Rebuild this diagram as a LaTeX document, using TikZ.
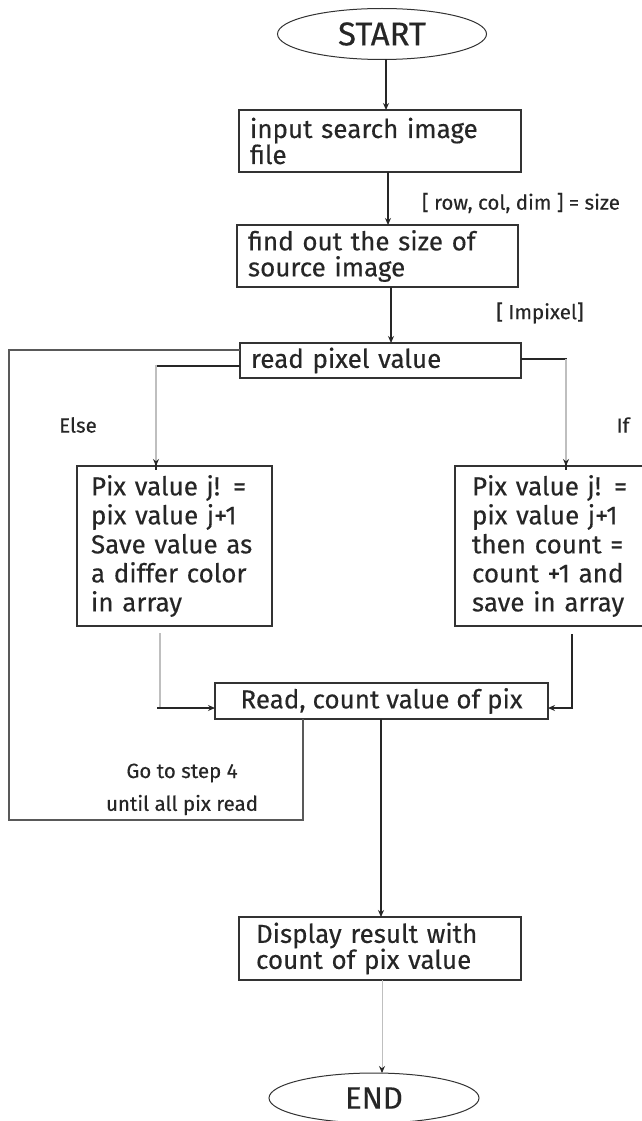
\documentclass[tikz,border=0pt]{standalone}
\usepackage{fontspec}
\setmainfont{Fira Sans}[UprightFeatures={FakeBold=0.3}]
\usetikzlibrary{arrows.meta,shapes.geometric}
\begin{document}
\begin{tikzpicture}[x=1pt,y=-1pt,
  every node/.style={inner sep=0pt,outer sep=0pt,text=black!85},
  box/.style={draw=black!80,line width=1.1pt,rectangle,inner xsep=11pt,align=left},
  term/.style={draw=black!80,line width=1pt,ellipse},
  arr/.style={-{Stealth[length=7pt,width=6pt]},line width=1.2pt,draw=black!85},
  garr/.style={-{Stealth[length=7pt,width=6pt,color=black!85]},line width=1.2pt,draw=black!25},
  ln/.style={line width=1.2pt,draw=black!85},
  gln/.style={line width=1.2pt,draw=black!25},
  lab/.style={font=\fontsize{20.5}{24}\selectfont},
  btxt/.style={font=\fontsize{26}{26}\selectfont},
  stxt/.style={font=\fontsize{26}{29}\selectfont}]
\useasboundingbox (0,0) rectangle (641,1121);
\fill[white] (0,0) rectangle (641,1121);

\node[term,minimum width=209pt,minimum height=51pt,font=\fontsize{33}{36}\selectfont] (start) at (382,34) {START};
\node[box,btxt,minimum width=282pt,minimum height=62pt,text width=260pt] (b1) at (380,141) {input search image\\file};
\node[box,btxt,minimum width=281pt,minimum height=62pt,text width=259pt] (b2) at (377.5,256) {find out the size of\\source image};
\node[box,btxt,minimum width=281pt,minimum height=35pt,text width=259pt] (rp) at (380.5,360.5) {read pixel value};
\node[box,stxt,minimum width=189pt,minimum height=160pt,text width=167pt,inner xsep=14pt] (lb) at (174.5,546) {Pix value j! =\\pix value j+1\\Save value as\\a differ color\\in array};
\node[box,stxt,minimum width=177pt,minimum height=160pt,text width=160pt,inner xsep=17pt] (rb) at (552,546) {Pix value j! =\\pix value j+1\\then count =\\count +1 and\\save in array};
\node[box,btxt,minimum width=333pt,minimum height=36pt,align=center] (rc) at (381.5,701) {Read, count value of pix};
\node[box,btxt,minimum width=282pt,minimum height=63pt,text width=248pt,inner xsep=17pt] (dr) at (380,948.5) {Display result with\\count of pix value};
\node[term,minimum width=210pt,minimum height=50pt,font=\fontsize{31}{34}\selectfont] (end) at (374,1098) {END};

\node[lab] (l1) at (521,203) {[ row, col, dim ] = size};
\node[lab] (l2) at (540,313) {[ Impixel]};
\node[lab] (l3) at (78,425) {Else};
\node[lab] (l4) at (623,425) {If};
\node[lab] (l5) at (182,773) {Go to step 4};
\node[lab] (l6) at (182,805) {until all pix read};

\coordinate (c1) at (9,820);
\coordinate (c2) at (160,708);
\coordinate (c3) at (572,708);

\draw[arr] ([xshift=4pt]start.south) -- ([xshift=4pt]start.south |- b1.north);
\draw[arr] ([xshift=8pt]b1.south) -- ([xshift=8pt]b1.south |- b2.north);
\draw[arr] ([xshift=13.5pt]b2.south) -- ([xshift=13.5pt]b2.south |- rp.north);
\draw[ln] ([yshift=-5.5pt]rp.west) -| ([xshift=-18.5pt,yshift=-4pt]lb.north);
\draw[garr] ([xshift=-18.5pt,yshift=-4pt]rp.west -| lb.north) -- ([xshift=-18.5pt]lb.north);
\draw[ln] ([yshift=1.5pt]rp.east) -| ([xshift=14pt,yshift=-4pt]rb.north);
\draw[garr] ([xshift=14pt,yshift=1.5pt]rp.east -| rb.north) -- ([xshift=14pt]rb.north);
\draw[gln] ([xshift=-14.5pt,yshift=-7pt]lb.south) -- (c2);
\draw[arr] ([xshift=-3pt]c2) -- (c2 -| rc.west);
\draw[ln] ([xshift=20pt,yshift=-8pt]rb.south) -- (c3);
\draw[arr] ([xshift=1pt]c3) -- (c3 -| rc.east);
\draw[ln,draw=black!65] ([xshift=-78.5pt]rc.south) |- (c1) |- ([yshift=10.5pt]rp.west);
\draw[arr] ([xshift=-0.5pt]rc.south) -- ([xshift=-0.5pt]rc.south |- dr.north);
\draw[garr,line width=0.9pt] ([xshift=2pt]dr.south) -- ([xshift=2pt]dr.south |- end.north);
\end{tikzpicture}
\end{document}
